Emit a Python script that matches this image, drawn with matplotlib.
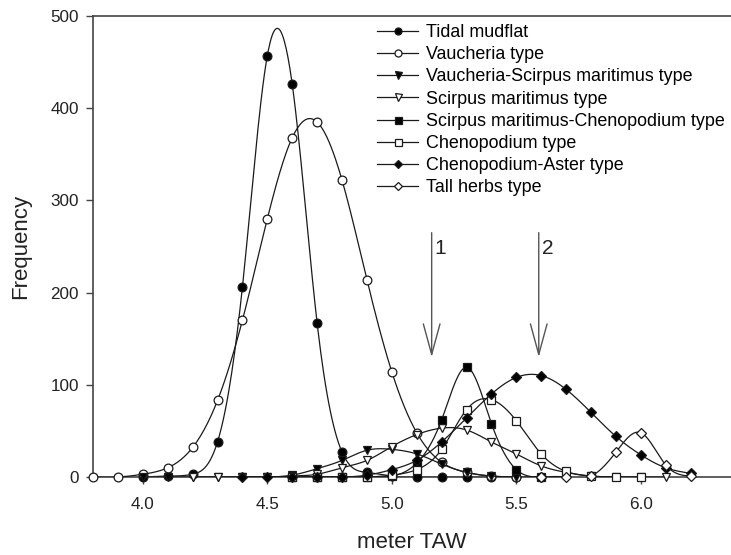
import numpy as np
import matplotlib
matplotlib.use("Agg")
import matplotlib.pyplot as plt
from matplotlib.lines import Line2D

plt.rcParams['font.family'] = ['Liberation Sans', 'DejaVu Sans']

# Elevation classes (m TAW)
elev = [3.8, 3.9, 4.0, 4.1, 4.2, 4.3, 4.4, 4.5, 4.6, 4.7, 4.8, 4.9, 5.0,
        5.1, 5.2, 5.3, 5.4, 5.5, 5.6, 5.7, 5.8, 5.9, 6.0, 6.1, 6.2]

# Frequencies per vegetation type, first value belongs to elev[start]
tidal_start, tidal = 2, [0, 1, 3, 38, 206, 457, 426, 167, 27, 5, 1, 0, 0, 0, 0, 0]
vauch_start, vauch = 0, [0, 0, 3, 10, 32, 83, 170, 280, 368, 385, 322, 214, 114,
                         48, 16, 5, 1, 0, 0]
vs_start, vs = 2, [0, 0, 0, 0, 0, 0, 2, 9, 18, 29, 30, 25, 14, 5, 1, 0]
scirp_start, scirp = 4, [0, 0, 0, 0, 1, 3, 10, 18, 33, 46, 53, 51, 38, 25, 12, 5,
                         1, 0, 0, 0]
sc_start, sc = 8, [0, 0, 0, 0, 1, 15, 62, 119, 58, 8, 0]
cheno_start, cheno = 8, [0, 0, 0, 0, 2, 8, 30, 73, 84, 61, 25, 6, 1, 0, 0]
ca_start, ca = 6, [0, 0, 0, 0, 0, 2, 8, 18, 38, 64, 90, 108, 110, 95, 70, 44,
                   24, 10, 4]
tall_start, tall = 18, [0, 0, 1, 27, 48, 13, 1]

labels = ["Tidal mudflat", "Vaucheria type", "Vaucheria-Scirpus maritimus type",
          "Scirpus maritimus type", "Scirpus maritimus-Chenopodium type",
          "Chenopodium type", "Chenopodium-Aster type", "Tall herbs type"]

# arrows (position, top, tip) and their labels
arrow_x = [5.16, 5.59]
arrow_top, arrow_tip = 265, 130
arrow_lab = ["1", "2"]

series = [
    (tidal_start, tidal, 'o', 'black'),
    (vauch_start, vauch, 'o', 'white'),
    (vs_start, vs, 'v', 'black'),
    (scirp_start, scirp, 'v', 'white'),
    (sc_start, sc, 's', 'black'),
    (cheno_start, cheno, 's', 'white'),
    (ca_start, ca, 'D', 'black'),
    (tall_start, tall, 'D', 'white'),
]


def natural_spline(x, y, n=400):
    x = np.asarray(x, float)
    y = np.asarray(y, float)
    m = len(x)
    h = np.diff(x)
    A = np.zeros((m, m))
    b = np.zeros(m)
    A[0, 0] = A[-1, -1] = 1
    for i in range(1, m - 1):
        A[i, i - 1] = h[i - 1]
        A[i, i] = 2 * (h[i - 1] + h[i])
        A[i, i + 1] = h[i]
        b[i] = 3 * ((y[i + 1] - y[i]) / h[i] - (y[i] - y[i - 1]) / h[i - 1])
    c = np.linalg.solve(A, b)
    xs = np.linspace(x[0], x[-1], n)
    k = np.clip(np.searchsorted(x, xs) - 1, 0, m - 2)
    dx = xs - x[k]
    bb = (y[k + 1] - y[k]) / h[k] - h[k] * (2 * c[k] + c[k + 1]) / 3
    dd = (c[k + 1] - c[k]) / (3 * h[k])
    ys = y[k] + bb * dx + c[k] * dx ** 2 + dd * dx ** 3
    return xs, ys


fig = plt.figure(figsize=(7.31, 5.55), dpi=100)
ax = fig.add_axes([93 / 731, 78 / 555, 638 / 731, 461 / 555])

handles = []
for i, (start, vals, mk, fc) in enumerate(series):
    xv = elev[start:start + len(vals)]
    xs, ys = natural_spline(xv, vals)
    ax.plot(xs, ys, color='#1a1a1a', lw=0.9, zorder=2 + i)
    ms = 6.3 if mk != 'D' else 5.3
    ax.plot(xv, vals, ls='none', marker=mk, ms=ms, mfc=fc, mec='#1a1a1a',
            mew=0.9, clip_on=False, zorder=3 + i)
    handles.append(Line2D([], [], color='#1a1a1a', lw=0.9, marker=mk,
                          ms=ms * 0.8, mfc=fc, mec='#1a1a1a', mew=0.9))

for xa, lab in zip(arrow_x, arrow_lab):
    ax.annotate('', xy=(xa, arrow_tip), xytext=(xa, arrow_top),
                arrowprops=dict(arrowstyle='->,head_length=2.2,head_width=0.6',
                                mutation_scale=10, color='#555555', lw=1.0,
                                shrinkA=0, shrinkB=0))
    ax.text(xa + 0.012, 248, lab, fontsize=15, ha='left', va='center',
            color='#222222')

ax.set_xlim(3.8, 6.362)
ax.set_ylim(0, 500)
ax.set_xticks([4.0, 4.5, 5.0, 5.5, 6.0])
ax.set_xticklabels(["4.0", "4.5", "5.0", "5.5", "6.0"])
ax.set_yticks([0, 100, 200, 300, 400, 500])
ax.tick_params(direction='out', length=5, width=1, labelsize=12.3,
               colors='#444444', labelcolor='#222222')
ax.tick_params(axis='x', pad=9.5)
ax.tick_params(axis='y', pad=5)
ax.spines['right'].set_visible(False)
for s in ['left', 'top', 'bottom']:
    ax.spines[s].set_color('#444444')
    ax.spines[s].set_linewidth(1.2)

ax.set_xlabel("meter TAW", fontsize=16, labelpad=14, color='#222222')
ax.set_ylabel("Frequency", fontsize=16, labelpad=14, color='#222222')

ax.legend(handles, labels, loc='upper left',
          bbox_to_anchor=(377 / 731, (555 - 24) / 555),
          bbox_transform=fig.transFigure, frameon=False, fontsize=12.9,
          handlelength=2.3, handletextpad=0.45, labelspacing=0.29,
          borderpad=0, borderaxespad=0)

fig.savefig("out.png", dpi=100)
